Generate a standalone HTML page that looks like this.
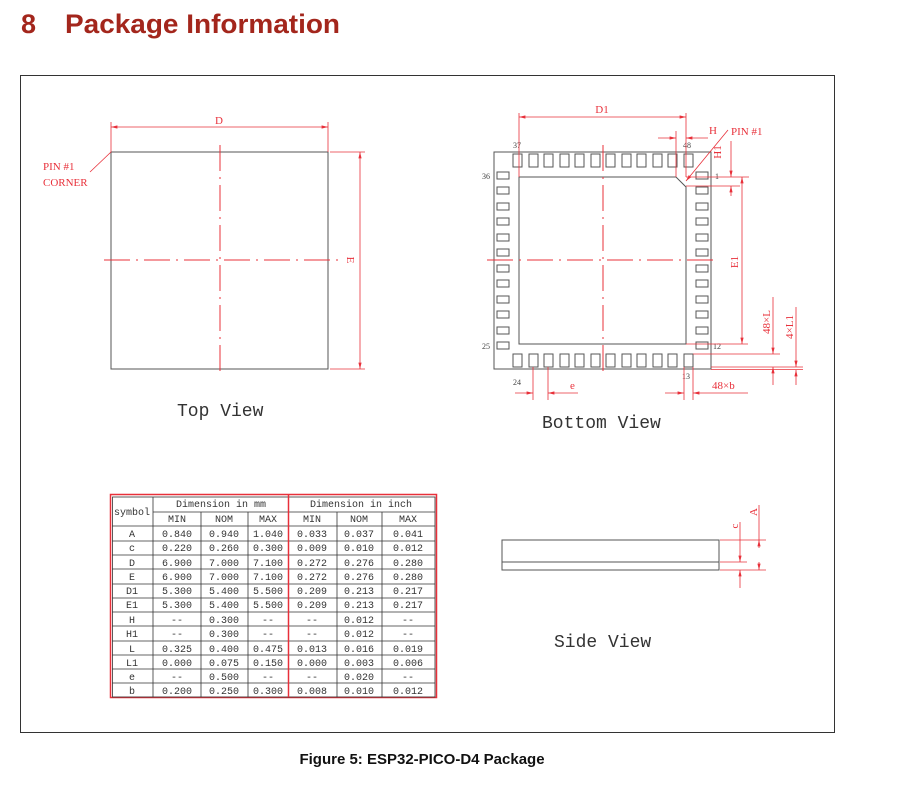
<!DOCTYPE html>
<html><head><meta charset="utf-8"><style>
body{margin:0;background:#fff;width:898px;height:791px;overflow:hidden}
svg{display:block}
.r{stroke:#e8303a;stroke-width:0.8;fill:none}
.k{stroke:#555;stroke-width:1;fill:none}
.d{stroke:#e8303a;stroke-width:1;stroke-dasharray:26 6 2 6;fill:none}
.t{fill:#e8303a;font-family:"Liberation Serif",serif;font-size:11px}
.b{fill:#444;font-family:"Liberation Serif",serif;font-size:8px}
.tb{font-family:"Liberation Mono",monospace;font-size:10px;fill:#333;text-anchor:middle}
.v{font-family:"Liberation Mono",monospace;font-size:18px;fill:#333}
</style></head><body>
<svg width="898" height="791" viewBox="0 0 898 791" xmlns="http://www.w3.org/2000/svg">
<defs><marker id="a" markerWidth="8" markerHeight="6" refX="8" refY="3" orient="auto-start-reverse"><path d="M0,1 L8,3 L0,5z" fill="#e8303a"/></marker></defs>
<text x="21" y="33" font-family="Liberation Sans,sans-serif" font-weight="bold" font-size="27" fill="#a3261c">8</text>
<text x="65" y="33" font-family="Liberation Sans,sans-serif" font-weight="bold" font-size="27" fill="#a3261c" textLength="275" lengthAdjust="spacingAndGlyphs">Package Information</text>
<rect x="20.5" y="75.5" width="814" height="657" fill="none" stroke="#333" stroke-width="1"/>
<text x="422" y="764" text-anchor="middle" font-family="Liberation Sans,sans-serif" font-weight="bold" font-size="15" fill="#111">Figure 5: ESP32-PICO-D4 Package</text>

<!-- Top view -->
<rect x="111" y="152" width="217" height="217" class="k"/>
<line x1="220" y1="145" x2="220" y2="376" class="d"/>
<line x1="104" y1="260" x2="338" y2="260" class="d"/>
<line x1="111" y1="122" x2="111" y2="152" class="r"/><line x1="328" y1="122" x2="328" y2="152" class="r"/>
<line x1="111" y1="127" x2="328" y2="127" class="r" marker-start="url(#a)" marker-end="url(#a)"/>
<text x="219" y="124" class="t" text-anchor="middle">D</text>
<line x1="330" y1="152" x2="365" y2="152" class="r"/><line x1="330" y1="369" x2="365" y2="369" class="r"/>
<line x1="360" y1="152" x2="360" y2="369" class="r" marker-start="url(#a)" marker-end="url(#a)"/>
<text x="0" y="0" class="t" transform="translate(347,260) rotate(90)" text-anchor="middle">E</text>
<line x1="90" y1="172" x2="111" y2="152" class="r"/>
<text x="43" y="170" class="t">PIN #1</text><text x="43" y="186" class="t">CORNER</text>
<text x="177" y="416" class="v">Top View</text>

<!-- Bottom view -->
<rect x="494" y="152" width="217" height="217" class="k"/>
<path d="M519,177 H676 L686,187 V344 H519 Z" class="k"/>
<g class="k" stroke-width="0.9">
<rect x="513" y="154" width="9" height="13"/><rect x="529" y="154" width="9" height="13"/><rect x="544" y="154" width="9" height="13"/><rect x="560" y="154" width="9" height="13"/><rect x="575" y="154" width="9" height="13"/><rect x="591" y="154" width="9" height="13"/><rect x="606" y="154" width="9" height="13"/><rect x="622" y="154" width="9" height="13"/><rect x="637" y="154" width="9" height="13"/><rect x="653" y="154" width="9" height="13"/><rect x="668" y="154" width="9" height="13"/><rect x="684" y="154" width="9" height="13"/>
<rect x="513" y="354" width="9" height="13"/><rect x="529" y="354" width="9" height="13"/><rect x="544" y="354" width="9" height="13"/><rect x="560" y="354" width="9" height="13"/><rect x="575" y="354" width="9" height="13"/><rect x="591" y="354" width="9" height="13"/><rect x="606" y="354" width="9" height="13"/><rect x="622" y="354" width="9" height="13"/><rect x="637" y="354" width="9" height="13"/><rect x="653" y="354" width="9" height="13"/><rect x="668" y="354" width="9" height="13"/><rect x="684" y="354" width="9" height="13"/>
<rect x="497" y="172" width="12" height="7"/><rect x="497" y="187" width="12" height="7"/><rect x="497" y="203" width="12" height="7"/><rect x="497" y="218" width="12" height="7"/><rect x="497" y="234" width="12" height="7"/><rect x="497" y="249" width="12" height="7"/><rect x="497" y="265" width="12" height="7"/><rect x="497" y="280" width="12" height="7"/><rect x="497" y="296" width="12" height="7"/><rect x="497" y="311" width="12" height="7"/><rect x="497" y="327" width="12" height="7"/><rect x="497" y="342" width="12" height="7"/>
<rect x="696" y="172" width="12" height="7"/><rect x="696" y="187" width="12" height="7"/><rect x="696" y="203" width="12" height="7"/><rect x="696" y="218" width="12" height="7"/><rect x="696" y="234" width="12" height="7"/><rect x="696" y="249" width="12" height="7"/><rect x="696" y="265" width="12" height="7"/><rect x="696" y="280" width="12" height="7"/><rect x="696" y="296" width="12" height="7"/><rect x="696" y="311" width="12" height="7"/><rect x="696" y="327" width="12" height="7"/><rect x="696" y="342" width="12" height="7"/>
</g>
<text x="513" y="148" class="b">37</text><text x="683" y="148" class="b">48</text>
<text x="482" y="179" class="b">36</text><text x="715" y="179" class="b">1</text>
<text x="482" y="349" class="b">25</text><text x="713" y="349" class="b">12</text>
<text x="513" y="385" class="b">24</text><text x="682" y="379" class="b">13</text>
<line x1="603" y1="145" x2="603" y2="376" class="d"/>
<line x1="487" y1="260" x2="717" y2="260" class="d"/>
<line x1="519" y1="113" x2="519" y2="177" class="r"/><line x1="686" y1="113" x2="686" y2="177" class="r"/>
<line x1="519" y1="117" x2="686" y2="117" class="r" marker-start="url(#a)" marker-end="url(#a)"/>
<text x="602" y="113" class="t" text-anchor="middle">D1</text>
<line x1="676" y1="131" x2="676" y2="177" class="r"/>
<line x1="658" y1="138" x2="676" y2="138" class="r" marker-end="url(#a)"/>
<line x1="708" y1="138" x2="686" y2="138" class="r" marker-end="url(#a)"/>
<text x="709" y="134" class="t">H</text>
<line x1="728" y1="130" x2="686" y2="181" class="r" marker-end="url(#a)"/>
<text x="731" y="135" class="t">PIN #1</text>
<line x1="686" y1="177" x2="749" y2="177" class="r"/><line x1="686" y1="186" x2="740" y2="186" class="r"/>
<line x1="731" y1="141" x2="731" y2="177" class="r" marker-end="url(#a)"/>
<line x1="731" y1="196" x2="731" y2="186" class="r" marker-end="url(#a)"/>
<text x="0" y="0" class="t" transform="translate(721,152) rotate(-90)" text-anchor="middle">H1</text>
<line x1="686" y1="344" x2="748" y2="344" class="r"/>
<line x1="742" y1="177" x2="742" y2="344" class="r" marker-start="url(#a)" marker-end="url(#a)"/>
<text x="0" y="0" class="t" transform="translate(738,262) rotate(-90)" text-anchor="middle">E1</text>
<line x1="693" y1="354" x2="780" y2="354" class="r"/><line x1="711" y1="367" x2="803" y2="367" class="r"/><line x1="711" y1="369.5" x2="803" y2="369.5" class="r"/>
<line x1="773" y1="297" x2="773" y2="354" class="r" marker-end="url(#a)"/>
<line x1="773" y1="385" x2="773" y2="367" class="r" marker-end="url(#a)"/>
<text x="0" y="0" class="t" transform="translate(770,322) rotate(-90)" text-anchor="middle">48×L</text>
<line x1="796" y1="307" x2="796" y2="367" class="r" marker-end="url(#a)"/>
<line x1="796" y1="385" x2="796" y2="370" class="r" marker-end="url(#a)"/>
<text x="0" y="0" class="t" transform="translate(793,327) rotate(-90)" text-anchor="middle">4×L1</text>
<line x1="684" y1="367" x2="684" y2="400" class="r"/><line x1="693" y1="367" x2="693" y2="400" class="r"/>
<line x1="665" y1="393" x2="684" y2="393" class="r" marker-end="url(#a)"/>
<line x1="748" y1="393" x2="693" y2="393" class="r" marker-end="url(#a)"/>
<text x="712" y="389" class="t">48×b</text>
<line x1="533" y1="367" x2="533" y2="400" class="r"/><line x1="548" y1="367" x2="548" y2="400" class="r"/>
<line x1="515" y1="393" x2="533" y2="393" class="r" marker-end="url(#a)"/>
<line x1="578" y1="393" x2="548" y2="393" class="r" marker-end="url(#a)"/>
<text x="570" y="389" class="t">e</text>
<text x="542" y="428" class="v">Bottom View</text>

<!-- Side view -->
<rect x="502" y="540" width="217" height="30" class="k"/>
<line x1="502" y1="562" x2="719" y2="562" class="k"/>
<line x1="720" y1="540" x2="766" y2="540" class="r"/><line x1="720" y1="562" x2="747" y2="562" class="r"/><line x1="720" y1="570" x2="766" y2="570" class="r"/>
<line x1="740" y1="522" x2="740" y2="562" class="r" marker-end="url(#a)"/>
<line x1="740" y1="588" x2="740" y2="570" class="r" marker-end="url(#a)"/>
<line x1="759" y1="505" x2="759" y2="540" class="r"/>
<line x1="759" y1="548" x2="759" y2="540" class="r" marker-end="url(#a)"/>
<line x1="759" y1="562" x2="759" y2="570" class="r" marker-end="url(#a)"/>
<text x="0" y="0" class="t" transform="translate(738,526) rotate(-90)" text-anchor="middle">c</text>
<text x="0" y="0" class="t" transform="translate(757,512) rotate(-90)" text-anchor="middle">A</text>
<text x="554" y="647" class="v">Side View</text>

<!-- Table -->
<rect x="110.5" y="494.5" width="326" height="203" fill="none" stroke="#e8303a" stroke-width="1.5"/>
<rect x="112.5" y="497" width="322.5" height="200" fill="none" stroke="#333" stroke-width="0.8"/>
<g stroke="#333" stroke-width="0.8">
<line x1="153" y1="512" x2="435" y2="512"/>
<line x1="112" y1="526" x2="435" y2="526"/>
<line x1="112" y1="541" x2="435" y2="541"/><line x1="112" y1="555" x2="435" y2="555"/><line x1="112" y1="569" x2="435" y2="569"/><line x1="112" y1="584" x2="435" y2="584"/><line x1="112" y1="598" x2="435" y2="598"/><line x1="112" y1="612" x2="435" y2="612"/><line x1="112" y1="626" x2="435" y2="626"/><line x1="112" y1="641" x2="435" y2="641"/><line x1="112" y1="655" x2="435" y2="655"/><line x1="112" y1="669" x2="435" y2="669"/><line x1="112" y1="683" x2="435" y2="683"/>
<line x1="153" y1="497" x2="153" y2="697"/>
<line x1="201" y1="512" x2="201" y2="697"/><line x1="248" y1="512" x2="248" y2="697"/>
<line x1="337" y1="512" x2="337" y2="697"/><line x1="382" y1="512" x2="382" y2="697"/>
</g>
<line x1="288.5" y1="495" x2="288.5" y2="697" stroke="#e8303a" stroke-width="1.5"/>
<g class="tb">
<text x="132" y="515">symbol</text>
<text x="221" y="507">Dimension in mm</text><text x="361" y="507">Dimension in inch</text>
<text x="177" y="522">MIN</text><text x="224" y="522">NOM</text><text x="268" y="522">MAX</text><text x="312" y="522">MIN</text><text x="359" y="522">NOM</text><text x="408" y="522">MAX</text>
<text x="132" y="537">A</text><text x="177" y="537">0.840</text><text x="224" y="537">0.940</text><text x="268" y="537">1.040</text><text x="312" y="537">0.033</text><text x="359" y="537">0.037</text><text x="408" y="537">0.041</text>
<text x="132" y="551">c</text><text x="177" y="551">0.220</text><text x="224" y="551">0.260</text><text x="268" y="551">0.300</text><text x="312" y="551">0.009</text><text x="359" y="551">0.010</text><text x="408" y="551">0.012</text>
<text x="132" y="566">D</text><text x="177" y="566">6.900</text><text x="224" y="566">7.000</text><text x="268" y="566">7.100</text><text x="312" y="566">0.272</text><text x="359" y="566">0.276</text><text x="408" y="566">0.280</text>
<text x="132" y="580">E</text><text x="177" y="580">6.900</text><text x="224" y="580">7.000</text><text x="268" y="580">7.100</text><text x="312" y="580">0.272</text><text x="359" y="580">0.276</text><text x="408" y="580">0.280</text>
<text x="132" y="594">D1</text><text x="177" y="594">5.300</text><text x="224" y="594">5.400</text><text x="268" y="594">5.500</text><text x="312" y="594">0.209</text><text x="359" y="594">0.213</text><text x="408" y="594">0.217</text>
<text x="132" y="608">E1</text><text x="177" y="608">5.300</text><text x="224" y="608">5.400</text><text x="268" y="608">5.500</text><text x="312" y="608">0.209</text><text x="359" y="608">0.213</text><text x="408" y="608">0.217</text>
<text x="132" y="623">H</text><text x="177" y="623">--</text><text x="224" y="623">0.300</text><text x="268" y="623">--</text><text x="312" y="623">--</text><text x="359" y="623">0.012</text><text x="408" y="623">--</text>
<text x="132" y="637">H1</text><text x="177" y="637">--</text><text x="224" y="637">0.300</text><text x="268" y="637">--</text><text x="312" y="637">--</text><text x="359" y="637">0.012</text><text x="408" y="637">--</text>
<text x="132" y="652">L</text><text x="177" y="652">0.325</text><text x="224" y="652">0.400</text><text x="268" y="652">0.475</text><text x="312" y="652">0.013</text><text x="359" y="652">0.016</text><text x="408" y="652">0.019</text>
<text x="132" y="666">L1</text><text x="177" y="666">0.000</text><text x="224" y="666">0.075</text><text x="268" y="666">0.150</text><text x="312" y="666">0.000</text><text x="359" y="666">0.003</text><text x="408" y="666">0.006</text>
<text x="132" y="680">e</text><text x="177" y="680">--</text><text x="224" y="680">0.500</text><text x="268" y="680">--</text><text x="312" y="680">--</text><text x="359" y="680">0.020</text><text x="408" y="680">--</text>
<text x="132" y="694">b</text><text x="177" y="694">0.200</text><text x="224" y="694">0.250</text><text x="268" y="694">0.300</text><text x="312" y="694">0.008</text><text x="359" y="694">0.010</text><text x="408" y="694">0.012</text>
</g>
</svg>
</body></html>
